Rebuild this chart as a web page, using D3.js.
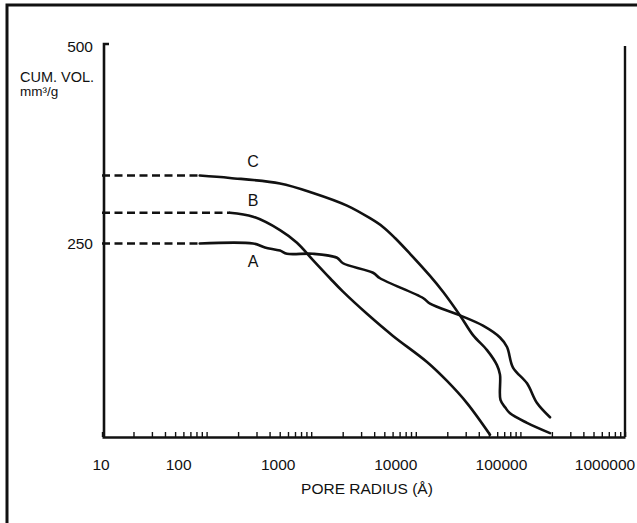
<!DOCTYPE html>
<html>
<head>
<meta charset="utf-8">
<script src="https://cdn.jsdelivr.net/npm/d3@7"></script>
<style>
  body { margin: 0; background: #fff; }
  svg { display: block; font-family: "Liberation Sans", Arial, Helvetica, sans-serif; }
</style>
</head>
<body>
<script>
// valores (radio de poro en Å, volumen acumulado en mm3/g)
const xTickValues = [10, 100, 1000, 10000, 100000, 1000000];
const xTickLabels = ["10", "100", "1000", "10000", "100000", "1000000"];
const yTickValues = [250, 500];

// tramos punteados (extrapolación hacia radios pequeños)
const dashA = [[10, 250], [86, 250]];
const dashB = [[10, 289], [167, 289]];
const dashC = [[10, 336], [86, 336]];

// curvas medidas
const curveA = [[86, 250], [278, 250], [361, 245], [503, 241], [587, 237], [1040, 237], [1765, 232],
  [2014, 225], [3900, 213], [4550, 206], [11720, 181], [13680, 174], [26480, 159], [43880, 146],
  [63800, 131], [74500, 119], [84950, 93], [115600, 73], [144200, 48], [191900, 30]];
const curveB = [[167, 289], [278, 284], [503, 267], [731, 251], [1040, 229], [1513, 206], [2014, 189],
  [3414, 161], [6053, 133], [12800, 100], [19870, 76], [30850, 48], [51200, 8]];
const curveC = [[86, 336], [167, 333], [503, 326], [1040, 314], [2198, 298], [3648, 282], [4857, 271],
  [6324, 257], [8810, 237], [13680, 209], [18200, 189], [26480, 159], [35240, 134], [47960, 115],
  [59700, 96], [63800, 84], [64500, 52], [72000, 42], [79600, 35], [115600, 23], [191900, 10]];

const curveNames = ["A", "B", "C"];
const namePos = [[278, 228], [278, 305], [278, 354]];

const width = 637, height = 523;
const plotLeft = 102, plotRight = 625, plotTop = 46, plotBottom = 437;

const x = d3.scaleLog([10, 1000000], [plotLeft, plotRight]);
const y = d3.scaleLinear([0, 500], [441, plotTop]);

const svg = d3.select("body").append("svg")
  .attr("width", width)
  .attr("height", height);

svg.append("rect").attr("width", width).attr("height", height).attr("fill", "#fff");

// marco exterior (recortado a la derecha y abajo)
svg.append("rect")
  .attr("x", 7).attr("y", 5)
  .attr("width", 700).attr("height", 600)
  .attr("fill", "none")
  .attr("stroke", "#111")
  .attr("stroke-width", 3);

// eje x con marcas logarítmicas hacia dentro
const xAxis = svg.append("g")
  .attr("transform", `translate(0,${plotBottom})`)
  .call(d3.axisBottom(x).tickValues(x.ticks()).tickSize(-5).tickSizeOuter(0).tickFormat(""));
xAxis.select(".domain").attr("stroke", "#111").attr("stroke-width", 2.6);
xAxis.selectAll(".tick line").attr("stroke", "#111").attr("stroke-width", 1.4);

// etiquetas del eje x (en la figura están corridas a la izquierda de su marca)
const labelNudge = [-1, -28, -33, -20, -19, -20];
svg.append("g")
  .attr("font-size", 15.5)
  .attr("fill", "#111")
  .attr("text-anchor", "middle")
  .selectAll("text")
  .data(xTickValues)
  .join("text")
    .attr("x", (d, i) => x(d) + labelNudge[i])
    .attr("y", 470)
    .text((d, i) => xTickLabels[i]);

svg.append("text")
  .attr("x", 367).attr("y", 494)
  .attr("text-anchor", "middle")
  .attr("font-size", 15.5)
  .attr("fill", "#111")
  .text("PORE RADIUS (Å)");

// eje y
svg.append("path")
  .attr("d", `M${plotLeft + 7},${y(500) - 2}H${plotLeft + 2}V${plotBottom}`)
  .attr("fill", "none")
  .attr("stroke", "#111")
  .attr("stroke-width", 2.6);

// borde derecho
svg.append("line")
  .attr("x1", x(1000000)).attr("x2", x(1000000))
  .attr("y1", y(500)).attr("y2", plotBottom)
  .attr("stroke", "#111")
  .attr("stroke-width", 2.4);

svg.append("g")
  .attr("font-size", 15.5)
  .attr("fill", "#111")
  .attr("text-anchor", "end")
  .selectAll("text")
  .data(yTickValues)
  .join("text")
    .attr("x", 93)
    .attr("y", d => y(d))
    .attr("dy", "0.36em")
    .text(d => d);

svg.append("text")
  .attr("x", 20).attr("y", 82)
  .attr("font-size", 14.5)
  .attr("fill", "#111")
  .text("CUM. VOL.");
svg.append("text")
  .attr("x", 20).attr("y", 95.5)
  .attr("font-size", 13.5)
  .attr("fill", "#111")
  .text("mm³/g");

// curvas
const line = d3.line()
  .x(d => x(d[0]))
  .y(d => y(d[1]));
const smooth = d3.line()
  .x(d => x(d[0]))
  .y(d => y(d[1]))
  .curve(d3.curveCatmullRom.alpha(0.5));

svg.append("g")
  .attr("fill", "none")
  .attr("stroke", "#111")
  .attr("stroke-width", 2.6)
  .attr("stroke-dasharray", "8,4.5")
  .selectAll("path")
  .data([dashA, dashB, dashC])
  .join("path")
    .attr("d", line);

svg.append("g")
  .attr("fill", "none")
  .attr("stroke", "#111")
  .attr("stroke-width", 2.6)
  .attr("stroke-linejoin", "round")
  .attr("stroke-linecap", "round")
  .selectAll("path")
  .data([curveA, curveB, curveC])
  .join("path")
    .attr("d", smooth);

svg.append("g")
  .attr("font-size", 16)
  .attr("fill", "#111")
  .attr("text-anchor", "middle")
  .selectAll("text")
  .data(curveNames)
  .join("text")
    .attr("x", (d, i) => x(namePos[i][0]))
    .attr("y", (d, i) => y(namePos[i][1]))
    .attr("dy", "0.36em")
    .text(d => d);
</script>
</body>
</html>
